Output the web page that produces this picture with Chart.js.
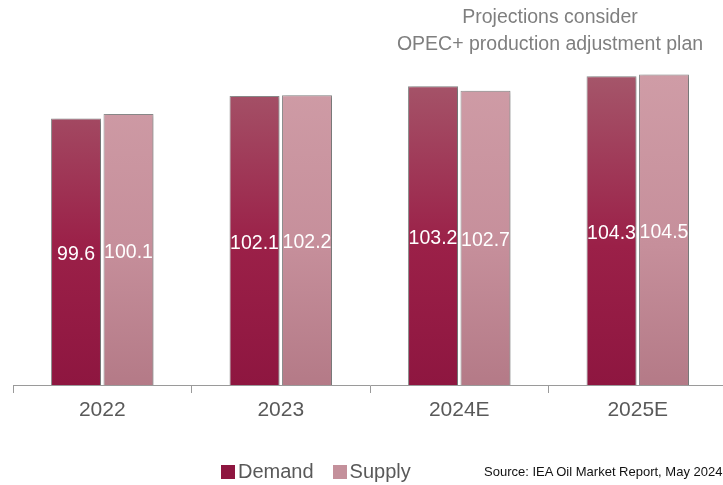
<!DOCTYPE html>
<html>
<head>
<meta charset="utf-8">
<script src="https://cdn.jsdelivr.net/npm/chart.js@4/dist/chart.umd.min.js"></script>
<style>
  html, body { margin: 0; padding: 0; background: #fff; overflow: hidden; width: 723px; height: 485px; }
  #wrap { position: relative; width: 723px; height: 485px; overflow: hidden; font-family: "Liberation Sans", Arial, sans-serif; }
  canvas { position: absolute; left: 0; top: 0; }
  .title { position: absolute; left: 380px; top: 3px; width: 340px; text-align: center; color: #7f7f7f; font-size: 19.5px; line-height: 27px; }
  .legend { position: absolute; left: 221px; top: 459px; color: #595959; font-size: 20px; line-height: 24px; white-space: nowrap; }
  .legend span.box { display: inline-block; width: 14px; height: 14px; margin-right: 3px; vertical-align: -1px; }
  .legend span.item { margin-right: 19px; }
  .source { position: absolute; left: 484px; top: 464px; font-size: 13px; color: #111; white-space: nowrap; }
  #err { position: absolute; left: 0; top: 0; font-size: 11px; color: red; }
</style>
</head>
<body>
<div id="wrap">
  <canvas id="chart" width="728" height="485"></canvas>
  <div class="title">Projections consider<br>OPEC+ production adjustment plan</div>
  <div class="legend">
    <span class="item"><span class="box" style="background:#8e1640"></span>Demand</span><span class="item"><span class="box" style="background:#c4909b"></span>Supply</span>
  </div>
  <div class="source">Source: IEA Oil Market Report, May 2024</div>
  <div id="err"></div>
</div>
<script>
const categories = ['2022', '2023', '2024E', '2025E'];
const demandValues = [99.6, 102.1, 103.2, 104.3];
const supplyValues = [100.1, 102.2, 102.7, 104.5];
const seriesNames = ['Demand', 'Supply'];

function makeGradient(top, middle, bottom) {
    return function(context) {
        const chart = context.chart;
        const area = chart.chartArea;
        if (!area) return bottom;
        const g = chart.ctx.createLinearGradient(0, 75, 0, area.bottom);
        g.addColorStop(0, top);
        g.addColorStop(0.55, middle);
        g.addColorStop(1, bottom);
        return g;
    };
}

// soft shadow behind the bars
const barShadow = {
    id: 'barShadow',
    beforeDatasetDraw(chart) {
        const ctx = chart.ctx;
        ctx.save();
        ctx.shadowColor = 'rgba(0,0,0,0.28)';
        ctx.shadowBlur = 4;
        ctx.shadowOffsetX = 2;
        ctx.shadowOffsetY = 1;
    },
    afterDatasetDraw(chart) {
        chart.ctx.restore();
    }
};

// value labels in the middle of each bar
const midLabels = {
    id: 'midLabels',
    afterDraw(chart) {
        try {
            const ctx = chart.ctx;
            const yScale = chart.scales.y;
            const base = yScale.getPixelForValue(yScale.min);
            ctx.save();
            ctx.shadowColor = 'transparent';
            ctx.fillStyle = '#ffffff';
            ctx.font = '19.5px "Liberation Sans", Arial, sans-serif';
            ctx.textAlign = 'center';
            ctx.textBaseline = 'middle';
            chart.data.datasets.forEach((ds, i) => {
                const meta = chart.getDatasetMeta(i);
                meta.data.forEach((bar, j) => {
                    const x = bar.x;
                    const top = yScale.getPixelForValue(ds.data[j]);
                    const mid = (top + base) / 2;
                    ctx.fillText(ds.data[j].toFixed(1), x, mid + 3);
                });
            });
            ctx.restore();
        } catch (e) {
            document.getElementById('err').textContent = e.message;
        }
    }
};

const ctx = document.getElementById('chart').getContext('2d');
new Chart(ctx, {
    type: 'bar',
    data: {
        labels: categories,
        datasets: [{
            label: seriesNames[0],
            data: demandValues,
            backgroundColor: makeGradient('#a5566a', '#9b2048', '#8e1640'),
            borderColor: 'rgba(110,110,110,0.75)',
            borderWidth: 1,
            barPercentage: 0.952,
            categoryPercentage: 0.588
        }, {
            label: seriesNames[1],
            data: supplyValues,
            backgroundColor: makeGradient('#cf9ca6', '#c68f9b', '#b47a87'),
            borderColor: 'rgba(110,110,110,0.75)',
            borderWidth: 1,
            barPercentage: 0.952,
            categoryPercentage: 0.588
        }]
    },
    options: {
        responsive: false,
        animation: false,
        layout: {
            padding: { left: 13, right: 1, top: 25, bottom: 60 }
        },
        scales: {
            x: {
                afterFit: function(scale) { scale.height = 40; },
                grid: {
                    drawOnChartArea: false,
                    drawTicks: true,
                    tickLength: 8,
                    color: '#9a9a9a',
                    lineWidth: 1
                },
                border: { display: true, color: '#9a9a9a', width: 1 },
                ticks: {
                    color: '#595959',
                    padding: 5,
                    font: { family: '"Liberation Sans", Arial, sans-serif', size: 21 }
                }
            },
            y: {
                display: false,
                min: 70,
                max: 110
            }
        },
        plugins: {
            legend: { display: false },
            tooltip: { enabled: false }
        }
    },
    plugins: [barShadow, midLabels]
});
</script>
</body>
</html>
